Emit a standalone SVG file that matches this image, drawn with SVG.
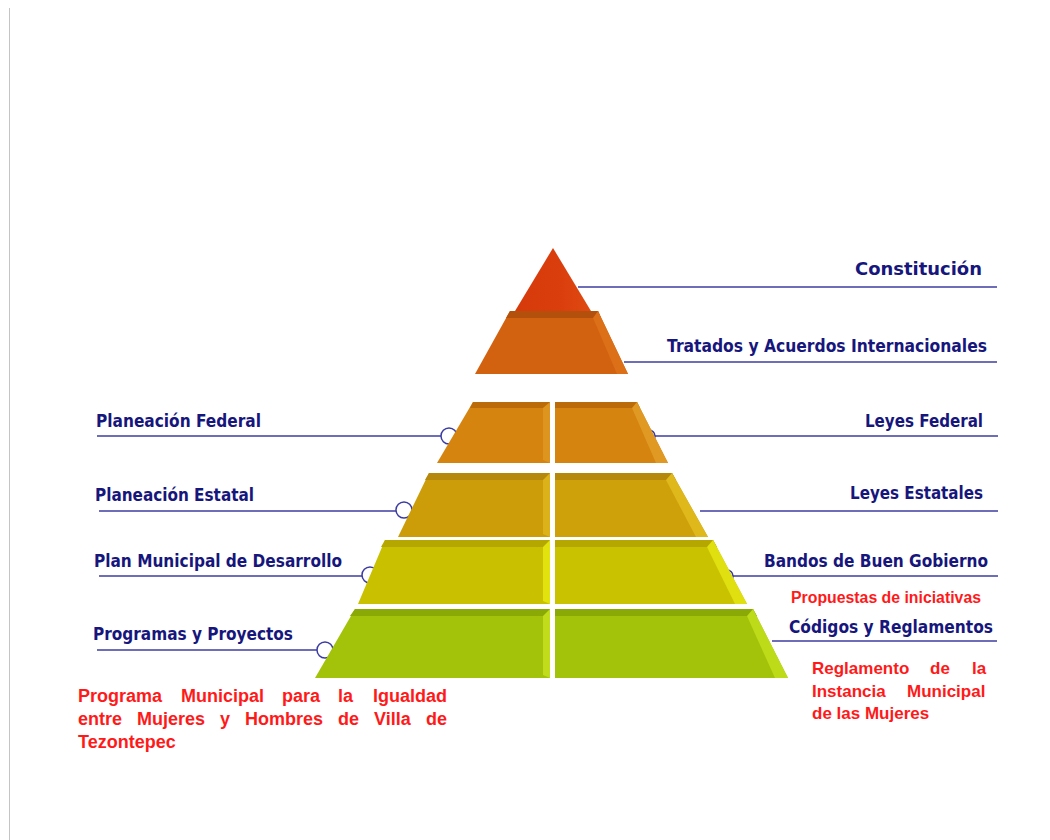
<svg xmlns="http://www.w3.org/2000/svg" width="1050" height="840" viewBox="0 0 1050 840">
<defs>
<style>
.lbl{font-family:"DejaVu Sans","Liberation Sans",sans-serif;font-weight:bold;fill:#16167c;font-size:18px}
.red{font-family:"Liberation Sans",Arial,sans-serif;font-weight:bold;fill:#ff1a1a}
.ln{stroke:#3c3ca0;stroke-width:1.5;fill:none}
.cir{stroke:#3c3ca0;stroke-width:1.5;fill:#ffffff}
</style>
<linearGradient id="gTri" x1="0" y1="0" x2="1" y2="0">
<stop offset="0" stop-color="#d63a0a"/><stop offset="0.6" stop-color="#da3e0d"/><stop offset="1" stop-color="#e04c12"/>
</linearGradient>
</defs>
<rect width="1050" height="840" fill="#ffffff"/>
<line x1="9.5" y1="8" x2="9.5" y2="840" stroke="#c4c4c4" stroke-width="1"/>

<g id="connectors">
<line class="ln" x1="578" y1="287" x2="997" y2="287"/>
<line class="ln" x1="624" y1="362" x2="997" y2="362"/>
<line class="ln" x1="97" y1="436" x2="441" y2="436"/>
<circle class="cir" cx="449" cy="436" r="8"/>
<line class="ln" x1="99" y1="511" x2="396" y2="511"/>
<circle class="cir" cx="404" cy="510" r="8"/>
<line class="ln" x1="99" y1="576" x2="362" y2="576"/>
<circle class="cir" cx="370" cy="575" r="8"/>
<line class="ln" x1="97" y1="650" x2="317" y2="650"/>
<circle class="cir" cx="325" cy="650" r="8"/>
<circle class="cir" cx="649" cy="436" r="6"/>
<line class="ln" x1="655" y1="436" x2="998" y2="436"/>
<line class="ln" x1="700" y1="511" x2="998" y2="511"/>
<circle class="cir" cx="727" cy="576" r="6"/>
<line class="ln" x1="733" y1="576" x2="998" y2="576"/>
<line class="ln" x1="772" y1="641" x2="997" y2="641"/>
</g>

<g id="tier1">
<polygon points="553,248 512,316 594,316" fill="url(#gTri)"/>
</g>
<g id="tier2">
<polygon points="510,311 598,311 628,374 475,374" fill="#d2620f"/>
<polygon points="510,311 598,311 601,318 506,318" fill="#b3500b"/>
<polygon points="598,311 628,374 617,374 593,318" fill="#dc7018"/>
</g>

<g id="tier3">
<polygon points="473,402 550,402 550,463 437,463" fill="#d4840f"/>
<polygon points="473,402 550,402 550,408 470,408" fill="#bb6c09"/>
<polygon points="543,408 550,402 550,463 543,460" fill="#de9520"/>
<polygon points="555,402 637,402 668,463 555,463" fill="#d4840f"/>
<polygon points="555,402 637,402 640,408 555,408" fill="#bb6c09"/>
<polygon points="637,402 668,463 656,463 632,408" fill="#e09a24"/>
</g>

<g id="tier4">
<polygon points="429,473 550,473 550,537 398,537" fill="#cc9d09"/>
<polygon points="429,473 550,473 550,480 425,480" fill="#b5870a"/>
<polygon points="543,480 550,473 550,537 543,534" fill="#dcb21a"/>
<polygon points="555,473 672,473 708,537 555,537" fill="#cea10a"/>
<polygon points="555,473 672,473 676,480 555,480" fill="#b5870a"/>
<polygon points="672,473 708,537 696,537 666,480" fill="#dfb81c"/>
</g>

<g id="tier5">
<polygon points="385,540 550,540 550,604 358,604" fill="#c9c000"/>
<polygon points="385,540 550,540 550,547 381,547" fill="#b6a700"/>
<polygon points="543,547 550,540 550,604 543,601" fill="#e2e20e"/>
<polygon points="555,540 713,540 747,604 555,604" fill="#c9c200"/>
<polygon points="555,540 713,540 717,547 555,547" fill="#b6a700"/>
<polygon points="713,540 747,604 735,604 707,547" fill="#e0e010"/>
</g>

<g id="tier6">
<polygon points="355,609 550,609 550,678 315,678" fill="#a2c309"/>
<polygon points="355,609 550,609 550,616 350,616" fill="#8aa806"/>
<polygon points="543,616 550,609 550,678 543,675" fill="#c0dc1a"/>
<polygon points="555,609 753,609 788,678 555,678" fill="#a2c309"/>
<polygon points="555,609 753,609 757,616 555,616" fill="#8aa806"/>
<polygon points="753,609 788,678 775,678 747,616" fill="#bedb1a"/>
</g>

<g id="labels-right">
<text class="lbl" x="855" y="275" font-size="22" textLength="127" lengthAdjust="spacingAndGlyphs">Constitución</text>
<text class="lbl" x="667" y="352" textLength="320" lengthAdjust="spacingAndGlyphs">Tratados y Acuerdos Internacionales</text>
<text class="lbl" x="865" y="427" textLength="118" lengthAdjust="spacingAndGlyphs">Leyes Federal</text>
<text class="lbl" x="850" y="499" textLength="133" lengthAdjust="spacingAndGlyphs">Leyes Estatales</text>
<text class="lbl" x="764" y="567" textLength="224" lengthAdjust="spacingAndGlyphs">Bandos de Buen Gobierno</text>
<text class="red" x="791" y="603" font-size="16" textLength="190" lengthAdjust="spacingAndGlyphs">Propuestas de iniciativas</text>
<text class="lbl" x="789" y="633" textLength="204" lengthAdjust="spacingAndGlyphs">Códigos y Reglamentos</text>
<text class="red" font-size="17"><tspan x="812" y="674">Reglamento</tspan><tspan x="930" y="674">de</tspan><tspan x="972" y="674">la</tspan><tspan x="812" y="697">Instancia</tspan><tspan x="907" y="697">Municipal</tspan><tspan x="812" y="719">de las Mujeres</tspan></text>
</g>

<g id="labels-left">
<text class="lbl" x="96" y="427" textLength="165" lengthAdjust="spacingAndGlyphs">Planeación Federal</text>
<text class="lbl" x="95" y="501" textLength="159" lengthAdjust="spacingAndGlyphs">Planeación Estatal</text>
<text class="lbl" x="94" y="567" textLength="248" lengthAdjust="spacingAndGlyphs">Plan Municipal de Desarrollo</text>
<text class="lbl" x="93" y="640" textLength="200" lengthAdjust="spacingAndGlyphs">Programas y Proyectos</text>
<text class="red" font-size="18"><tspan x="78" y="702">Programa</tspan><tspan x="181" y="702">Municipal</tspan><tspan x="282" y="702">para</tspan><tspan x="338" y="702">la</tspan><tspan x="373" y="702">Igualdad</tspan><tspan x="78" y="725">entre</tspan><tspan x="137" y="725">Mujeres</tspan><tspan x="220" y="725">y</tspan><tspan x="245" y="725">Hombres</tspan><tspan x="338" y="725">de</tspan><tspan x="374" y="725">Villa</tspan><tspan x="426" y="725">de</tspan><tspan x="78" y="748">Tezontepec</tspan></text>
</g>
</svg>
